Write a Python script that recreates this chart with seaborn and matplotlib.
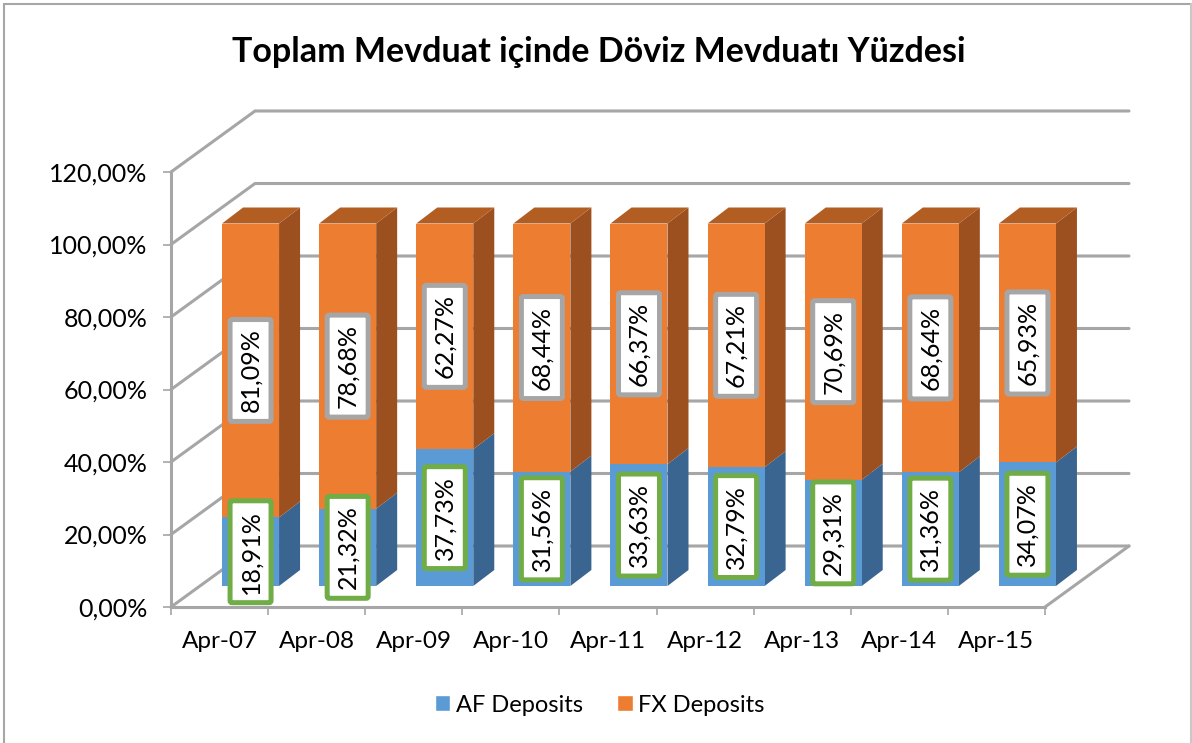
import pandas as pd
import matplotlib.pyplot as plt
import seaborn as sns
from matplotlib.lines import Line2D
from matplotlib.patches import Patch, Polygon

months = ["Apr-07", "Apr-08", "Apr-09", "Apr-10", "Apr-11", "Apr-12", "Apr-13", "Apr-14", "Apr-15"]
af_deposits = [18.91, 21.32, 37.73, 31.56, 33.63, 32.79, 29.31, 31.36, 34.07]
fx_deposits = [81.09, 78.68, 62.27, 68.44, 66.37, 67.21, 70.69, 68.64, 65.93]
y_ticks = [0, 20, 40, 60, 80, 100, 120]

df = pd.DataFrame({"month": months, "af": af_deposits, "fx": fx_deposits})
df["total"] = df["af"] + df["fx"]

sns.set_theme(style="white")
plt.rcParams["font.family"] = ["Lato", "DejaVu Sans"]

GREY = "#A6A6A6"
BLUE, BLUE_SIDE = "#5B9BD5", "#3A6590"
ORANGE, ORANGE_SIDE, ORANGE_TOP = "#ED7D31", "#9C5020", "#B25D22"

fig = plt.figure(figsize=(11.92, 7.43), dpi=100)
ax = fig.add_axes([171 / 1192, 1 - 607 / 743, 874 / 1192, 435 / 743])

# pixels per data unit, used for the fake 3D depth
px_x = 874 / 9
px_y = 435 / 120
wall_dx, wall_dy = 84 / px_x, 61 / px_y  # back wall
bar_dx, bar_dy = 31 / px_x, 21 / px_y  # front plane of the bars
side_dx, side_dy = 21 / px_x, 16 / px_y  # depth of one bar

# total first, AF over it, so the stack is two plain barplots
sns.barplot(data=df, x="month", y="total", color=ORANGE, saturation=1, width=57 / px_x, ax=ax, zorder=4,
            linewidth=0, edgecolor="none")
sns.barplot(data=df, x="month", y="af", color=BLUE, saturation=1, width=57 / px_x, ax=ax, zorder=5,
            linewidth=0, edgecolor="none")
for bar in ax.patches:
    bar.set_x(bar.get_x() + bar_dx)
    bar.set_y(bar.get_y() + bar_dy)
    bar.set_clip_on(False)

ax.set_xlim(-0.5, 8.5)
ax.set_ylim(0, 120)

# walls and floor
for t in y_ticks:
    ax.plot([-0.5, -0.5 + wall_dx, 8.5 + wall_dx], [t, t + wall_dy, t + wall_dy],
            color=GREY, lw=2.2, clip_on=False, zorder=1, solid_joinstyle="miter")
ax.plot([8.5, 8.5 + wall_dx], [0, wall_dy], color=GREY, lw=2.2, clip_on=False, zorder=1)

# side and top faces of the bars
half = 57 / px_x / 2
for i, (af, total) in enumerate(zip(df["af"], df["total"])):
    xl = i + bar_dx - half
    xr = i + bar_dx + half
    y0 = bar_dy
    y1 = bar_dy + af
    y2 = bar_dy + total
    faces = [
        ([(xr, y0), (xr + side_dx, y0 + side_dy), (xr + side_dx, y1 + side_dy), (xr, y1)], BLUE_SIDE),
        ([(xr, y1), (xr + side_dx, y1 + side_dy), (xr + side_dx, y2 + side_dy), (xr, y2)], ORANGE_SIDE),
        ([(xl, y2), (xl + side_dx, y2 + side_dy), (xr + side_dx, y2 + side_dy), (xr, y2)], ORANGE_TOP),
    ]
    for pts, col in faces:
        ax.add_patch(Polygon(pts, closed=True, facecolor=col, edgecolor="none", clip_on=False, zorder=3))

# data labels
def add_label(x, y, value, edge):
    ax.text(x + bar_dx, y + bar_dy, f"{value:.2f}%".replace(".", ","), rotation=90, ha="center", va="center",
            fontsize=18, color="black", zorder=8,
            bbox=dict(boxstyle="round,pad=0.36,rounding_size=0.08", facecolor="white", edgecolor=edge, linewidth=3.6))

for i, (af, fx) in enumerate(zip(af_deposits, fx_deposits)):
    add_label(i, af / 2, af, "#70AD47")
    add_label(i, af + fx / 2, fx, GREY)

# axes
sns.despine(ax=ax, top=True, right=True)
for side in ["left", "bottom"]:
    ax.spines[side].set_color(GREY)
    ax.spines[side].set_linewidth(2.2)
    ax.spines[side].set_zorder(2)
ax.set_xlabel("")
ax.set_ylabel("")
ax.set_yticks(y_ticks)
ax.set_yticklabels([f"{t:.2f}%".replace(".", ",") for t in y_ticks], fontsize=18, color="black")
ax.tick_params(axis="y", left=True, length=6, width=1.2, color=GREY, pad=11)
ax.set_xticks(range(9))
ax.set_xticklabels(months, fontsize=17.5, color="black")
ax.set_xticks([i - 0.5 for i in range(10)], minor=True)
ax.tick_params(axis="x", which="major", bottom=False, length=0, pad=17)
ax.tick_params(axis="x", which="minor", bottom=True, length=6, width=1.2, color=GREY)

fig.text(599 / 1192, 1 - 52 / 743, "Toplam Mevduat içinde Döviz Mevduatı Yüzdesi", ha="center", va="center",
         fontsize=24.5, fontweight="bold", color="black")

handles = [Patch(facecolor=BLUE, label="AF Deposits"), Patch(facecolor=ORANGE, label="FX Deposits")]
fig.legend(handles=handles, loc="center", bbox_to_anchor=(600 / 1192, 1 - 705 / 743), ncol=2, frameon=False,
           fontsize=17, handlelength=0.64, handleheight=0.64, handletextpad=0.25, columnspacing=1.45,
           labelcolor="black")

# chart border: left, top and right only
for xs, ys, col in [
    ([4 / 1192, 4 / 1192], [0, 1 - 4 / 743], GREY),
    ([4 / 1192, 1191 / 1192], [1 - 4 / 743, 1 - 4 / 743], GREY),
    ([1191 / 1192, 1191 / 1192], [0, 1 - 4 / 743], "#C8C8C8"),
]:
    fig.add_artist(Line2D(xs, ys, color=col, lw=1.5))

fig.savefig("out.png", dpi=100)
